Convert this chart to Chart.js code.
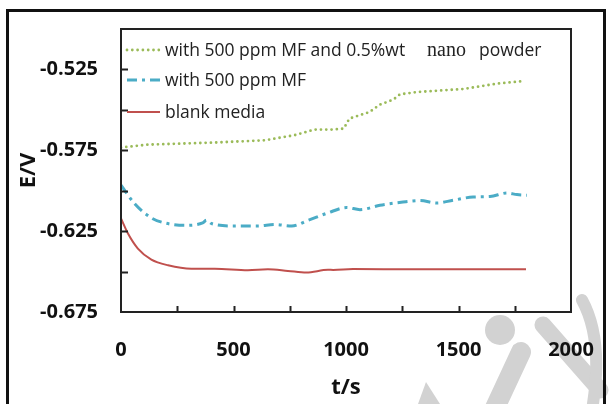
<!DOCTYPE html>
<html>
<head>
<meta charset="utf-8">
<script src="https://cdn.jsdelivr.net/npm/chart.js@4.4.0/dist/chart.umd.min.js"></script>
<style>
  html, body { margin: 0; padding: 0; background: #fff; }
  canvas { display: block; }
</style>
</head>
<body>
<canvas id="chart" width="610" height="404"></canvas>
<script>
// series (t in s, E in V)
const nanoT = [0, 120, 420, 640, 770, 860, 940, 990, 1015, 1105, 1150, 1210, 1240, 1315, 1520, 1600, 1670, 1790];
const nanoE = [-0.5733, -0.5715, -0.5702, -0.5688, -0.5657, -0.5622, -0.5622, -0.5616, -0.5554, -0.5513, -0.5468, -0.5437, -0.5404, -0.5390, -0.5371, -0.5354, -0.5338, -0.5322];

const mfT = [0, 60, 135, 194, 283, 363, 380, 402, 506, 608, 684, 759, 832, 920, 1003, 1062, 1151, 1253, 1329, 1403, 1476, 1565, 1640, 1716, 1760, 1804];
const mfE = [-0.5966, -0.6079, -0.6168, -0.6199, -0.6214, -0.6199, -0.6182, -0.6203, -0.6218, -0.6218, -0.6209, -0.6218, -0.6183, -0.6137, -0.6104, -0.6117, -0.6090, -0.6070, -0.6061, -0.6076, -0.6059, -0.6039, -0.6036, -0.6014, -0.6024, -0.6028];

const blankT = [0, 31, 75, 135, 209, 313, 417, 564, 653, 742, 824, 920, 943, 1032, 1300, 1600, 1800];
const blankE = [-0.6172, -0.6265, -0.6358, -0.6426, -0.6461, -0.6482, -0.6482, -0.6492, -0.6486, -0.6496, -0.6506, -0.6489, -0.6490, -0.6484, -0.6486, -0.6486, -0.6486];

const xTicks = [0, 250, 500, 750, 1000, 1250, 1500, 1750, 2000];
const yTicks = [-0.675, -0.65, -0.625, -0.6, -0.575, -0.55, -0.525, -0.5];
const yLabels = ['-0.675', '', '-0.625', '', '-0.575', '', '-0.525', ''];

const colors = { nano: '#9BBB59', mf: '#4BACC6', blank: '#C0504D' };

const toPoints = (ts, es) => ts.map((t, i) => ({ x: t, y: es[i] }));

const sans = '"Open Sans", "DejaVu Sans", sans-serif';

// faint watermark in the lower right corner and the outer frame
const backdrop = {
  id: 'backdrop',
  beforeDraw(chart) {
    const ctx = chart.ctx;
    ctx.save();
    ctx.strokeStyle = '#d2d2d2';
    ctx.fillStyle = '#d2d2d2';
    ctx.lineCap = 'round';
    ctx.lineWidth = 20;
    ctx.beginPath(); ctx.moveTo(521, 352); ctx.lineTo(494, 410); ctx.stroke();
    ctx.lineWidth = 17;
    ctx.beginPath(); ctx.moveTo(543, 325); ctx.lineTo(600, 390); ctx.stroke();
    ctx.lineWidth = 12;
    ctx.beginPath(); ctx.moveTo(582, 300); ctx.quadraticCurveTo(604, 340, 592, 410); ctx.stroke();
    ctx.beginPath(); ctx.arc(500, 330, 15, 0, Math.PI * 2); ctx.fill();
    ctx.beginPath(); ctx.moveTo(426, 382); ctx.lineTo(440, 404); ctx.lineTo(418, 404); ctx.closePath(); ctx.fill();
    ctx.restore();
  },
  afterDraw(chart) {
    const ctx = chart.ctx;
    ctx.save();
    ctx.strokeStyle = '#111';
    ctx.lineWidth = 3;
    ctx.beginPath();
    ctx.moveTo(7.5, 410); ctx.lineTo(7.5, 10.5); ctx.lineTo(604.5, 10.5); ctx.lineTo(604.5, 410);
    ctx.stroke();
    ctx.restore();
  }
};

// box round the plot and inward tick marks
const frame = {
  id: 'frame',
  afterDraw(chart) {
    const { ctx, chartArea: a, scales } = chart;
    ctx.save();
    ctx.strokeStyle = '#222';
    ctx.lineWidth = 2;
    ctx.strokeRect(a.left, a.top, a.right - a.left, a.bottom - a.top);
    ctx.beginPath();
    xTicks.slice(1, -1).forEach(v => {
      const px = Math.round(scales.x.getPixelForValue(v)) + 0.5;
      ctx.moveTo(px, a.bottom); ctx.lineTo(px, a.bottom - 6);
    });
    yTicks.slice(1, -1).forEach(v => {
      const py = Math.round(scales.y.getPixelForValue(v)) + 0.5;
      ctx.moveTo(a.left, py); ctx.lineTo(a.left + 7, py);
    });
    ctx.stroke();
    ctx.restore();
  }
};

// legend drawn by hand because one label mixes two fonts
const legend = {
  id: 'handLegend',
  afterDraw(chart) {
    const ctx = chart.ctx;
    const rows = [
      { ds: 0, y: 50, parts: [['with 500 ppm MF and 0.5%wt', '17.5px ' + sans, 165], ['nano', '20px "Liberation Serif", serif', 427], ['powder', '17.5px ' + sans, 479]] },
      { ds: 1, y: 80, parts: [['with 500 ppm MF', '17.5px ' + sans, 165]] },
      { ds: 2, y: 112, parts: [['blank media', '17.5px ' + sans, 165]] }
    ];
    ctx.save();
    rows.forEach(r => {
      const ds = chart.data.datasets[r.ds];
      ctx.strokeStyle = ds.borderColor;
      ctx.lineWidth = ds.borderWidth;
      ctx.lineCap = ds.borderCapStyle || 'butt';
      ctx.setLineDash(ds.borderDash || []);
      ctx.beginPath();
      ctx.moveTo(127, r.y); ctx.lineTo(160, r.y);
      ctx.stroke();
      ctx.setLineDash([]);
      ctx.fillStyle = '#222';
      ctx.textBaseline = 'alphabetic';
      r.parts.forEach(([txt, font, x]) => {
        ctx.font = font;
        ctx.fillText(txt, x, r.y + 6);
      });
    });
    ctx.restore();
  }
};

new Chart(document.getElementById('chart'), {
  type: 'line',
  data: {
    datasets: [
      {
        label: 'with 500 ppm MF and 0.5%wt nano powder',
        data: toPoints(nanoT, nanoE),
        borderColor: colors.nano,
        borderWidth: 2.8,
        borderDash: [0, 5.3],
        borderCapStyle: 'round',
        pointRadius: 0,
        tension: 0
      },
      {
        label: 'with 500 ppm MF',
        data: toPoints(mfT, mfE),
        borderColor: colors.mf,
        borderWidth: 3,
        borderDash: [10, 5, 3, 5],
        pointRadius: 0,
        cubicInterpolationMode: 'monotone'
      },
      {
        label: 'blank media',
        data: toPoints(blankT, blankE),
        borderColor: colors.blank,
        borderWidth: 2,
        pointRadius: 0,
        cubicInterpolationMode: 'monotone'
      }
    ]
  },
  options: {
    responsive: false,
    animation: false,
    layout: { padding: { left: 0, right: 39, top: 29, bottom: 0 } },
    plugins: { legend: { display: false }, tooltip: { enabled: false } },
    scales: {
      x: {
        type: 'linear',
        min: 0,
        max: 2000,
        afterFit: s => { s.height = 92; s.paddingLeft = 0; s.paddingRight = 0; },
        afterBuildTicks: s => { s.ticks = xTicks.map(v => ({ value: v })); },
        grid: { display: false, drawTicks: false },
        border: { display: false },
        ticks: {
          padding: 26,
          color: '#111',
          font: { family: sans, size: 20, weight: 'bold' },
          maxRotation: 0,
          autoSkip: false,
          callback: v => (v % 500 === 0 ? String(v) : '')
        },
        title: {
          display: true,
          text: 't/s',
          color: '#111',
          font: { family: sans, size: 22, weight: 'bold' },
          padding: { top: 0, bottom: 3 }
        }
      },
      y: {
        min: -0.675,
        max: -0.5,
        afterFit: s => { s.width = 121; s.paddingTop = 0; s.paddingBottom = 0; },
        afterBuildTicks: s => { s.ticks = yTicks.map(v => ({ value: v })); },
        grid: { display: false, drawTicks: false },
        border: { display: false },
        ticks: {
          padding: 23,
          color: '#111',
          font: { family: sans, size: 20, weight: 'bold' },
          autoSkip: false,
          callback: (v, i) => yLabels[i]
        },
        title: {
          display: true,
          text: 'E/V',
          color: '#111',
          font: { family: sans, size: 22, weight: 'bold' },
          padding: { top: 16, bottom: 0 }
        }
      }
    }
  },
  plugins: [backdrop, frame, legend]
});
</script>
</body>
</html>
